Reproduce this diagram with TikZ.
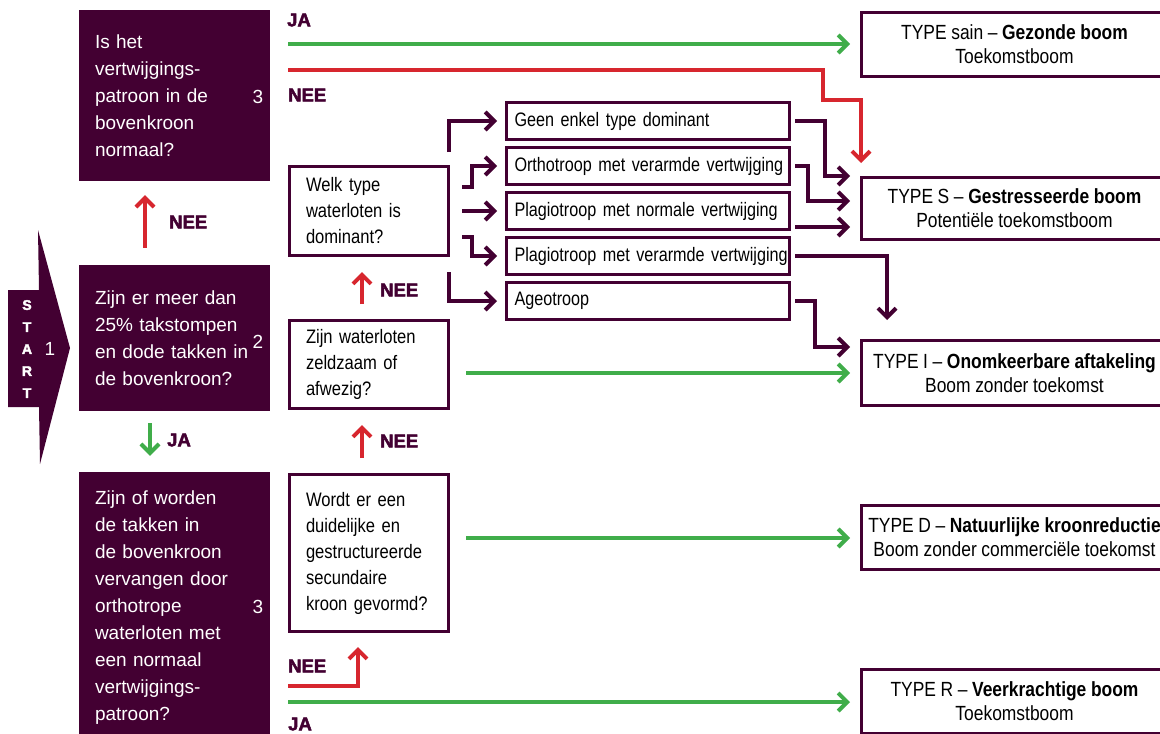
\documentclass[tikz,border=0pt]{standalone}
\usepackage{fontspec}
\setmainfont{Liberation Sans}
\newfontfamily\cn[FakeStretch=0.85,Ligatures=TeX]{Liberation Sans}
\newfontfamily\cnn[FakeStretch=0.83,Ligatures=TeX]{Liberation Sans}
\newfontfamily\lb[BoldFeatures={FakeBold=2.5}]{Liberation Sans}
\protected\def\spW{\spaceskip=4.3pt plus 1pt minus 1pt\relax}
\protected\def\spO{\spaceskip=4pt plus 1pt minus 1pt\relax}
\protected\def\spR{\spaceskip=4.6pt plus 1pt minus 1pt\relax}
\usetikzlibrary{arrows.meta,calc}
\definecolor{plum}{RGB}{67,0,50}
\definecolor{grn}{RGB}{64,173,74}
\definecolor{rd}{RGB}{215,38,46}
\begin{document}
\begin{tikzpicture}[x=1pt,y=-1pt,
  dark/.style={fill=plum, text=white, align=left, text width=159pt, inner xsep=16pt, inner ysep=0pt, minimum width=191pt, font=\fontsize{19}{27}\selectfont},
  wbox/.style={draw=plum, line width=3pt, fill=white, text=black, align=left, text width=126pt, inner xsep=16.5pt, inner ysep=0pt, font=\cn\fontsize{19.5}{26}\selectfont\spW},
  obox/.style={draw=plum, line width=3pt, fill=white, text=black, align=left, text width=267pt, inner xsep=8pt, inner ysep=0pt, minimum height=37pt, font=\cnn\fontsize{19.5}{24}\selectfont\spO},
  rbox/.style={draw=plum, line width=3pt, fill=white, text=black, align=center, minimum width=306pt, inner ysep=0pt, font=\cn\fontsize{20.5}{24}\selectfont\spR},
  num/.style={text=white, inner sep=0pt, font=\fontsize{19}{19}\selectfont},
  lbl/.style={text=plum, anchor=west, inner sep=0pt, font=\lb\bfseries\fontsize{18.5}{18.5}\selectfont},
  conn/.style={line width=4pt, -{Straight Barb[length=9pt,width=18pt]}},
  parr/.style={conn, draw=plum},
  garr/.style={conn, draw=grn},
  rarr/.style={conn, draw=rd},
]
\useasboundingbox (0,0) rectangle (1160,734);
\fill[white] (0,0) rectangle (1160,734);
\clip (0,0) rectangle (1160,734);

% start arrow
\fill[plum] (8,290) -- (39,290) -- (38,230) -- (70,348) -- (40,464) -- (39,407) -- (8,407) -- cycle;
\node[text=white, align=center, inner sep=0pt, font=\lb\bfseries\fontsize{14}{22}\selectfont] (start) at (27,349) {S\\T\\A\\R\\T};
\node[num] (n1) at (50,349) {1};

% dark question boxes
\node[dark, minimum height=171pt] (q1) at (174.5,95.5) {Is het\\vertwijgings-\\patroon in de\\bovenkroon\\normaal?};
\node[dark, minimum height=146pt] (q2) at (174.5,338) {Zijn er meer dan\\25\% takstompen\\en dode takken in\\de bovenkroon?};
\node[dark, minimum height=272pt] (q3) at (174.5,608) {Zijn of worden\\de takken in\\de bovenkroon\\vervangen door\\orthotrope\\waterloten met\\een normaal\\vertwijgings-\\patroon?};
\node[num] (n3a) at (258,97) {3};
\node[num] (n2) at (258,342) {2};
\node[num] (n3b) at (258,607) {3};

% white question boxes
\node[wbox, minimum height=89pt] (welk) at (369,211) {Welk type\\waterloten is\\dominant?};
\node[wbox, minimum height=88pt] (zeld) at (369,364.5) {Zijn waterloten\\zeldzaam of\\afwezig?};
\node[wbox, minimum height=157pt] (wordt) at (369,553) {Wordt er een\\duidelijke en\\gestructureerde\\secundaire\\\mbox{kroon gevormd?}};

% option boxes
\node[obox] (geen) at (648,121) {\mbox{Geen enkel type dominant}};
\node[obox] (ortho) at (648,166) {\mbox{Orthotroop met verarmde vertwijging}};
\node[obox] (pnorm) at (648,211) {\mbox{Plagiotroop met normale vertwijging}};
\node[obox] (pver) at (648,256) {\mbox{Plagiotroop met verarmde vertwijging}};
\node[obox] (ageo) at (648,301) {\mbox{Ageotroop}};

% result boxes
\node[rbox, minimum height=64pt] (sain) at (1014.5,44.5) {TYPE sain – \textbf{Gezonde boom}\\Toekomstboom};
\node[rbox, minimum height=62pt] (typeS) at (1014.5,208.5) {TYPE S – \textbf{Gestresseerde boom}\\Potentiële toekomstboom};
\node[rbox, minimum height=65pt] (typeI) at (1014.5,373) {TYPE I – \textbf{Onomkeerbare aftakeling}\\Boom zonder toekomst};
\node[rbox, minimum height=64pt] (typeD) at (1014.5,537.5) {TYPE D – \textbf{Natuurlijke kroonreductie}\\Boom zonder commerciële toekomst};
\node[rbox, minimum height=64pt] (typeR) at (1014.5,701.5) {TYPE R – \textbf{Veerkrachtige boom}\\Toekomstboom};

% labels
\node[lbl] (ja1) at (287,20) {JA};
\node[lbl] (nee1) at (288,95) {NEE};
\node[lbl] (nee2) at (169,222) {NEE};
\node[lbl] (ja2) at (167,440) {JA};
\node[lbl] (nee3) at (380,290) {NEE};
\node[lbl] (nee4) at (380,441) {NEE};
\node[lbl] (nee5) at (288,666) {NEE};
\node[lbl] (ja3) at (288,724) {JA};

% free ends
\coordinate (jt) at (288,44);
\coordinate (nt) at (288,70);
\coordinate (jz) at ($(zeld.east)+(16,8.5)$);
\coordinate (jw) at ($(wordt.east)+(16,-15)$);
\coordinate (nb) at (288,686);
\coordinate (jb) at (288,702);
\coordinate (wg) at ($(welk.north east)+(-1,-13)$);
\coordinate (wa) at ($(welk.south east)+(-1,15)$);
\coordinate (wo) at ($(welk.east)+(12,-24)$);
\coordinate (wp) at ($(welk.east)+(12,0)$);
\coordinate (wv) at ($(welk.east)+(12,26)$);

% vertical short arrows
\draw[rarr, shorten <=17pt, shorten >=14pt] ([xshift=-29.5pt]q2.north) -- ([xshift=-29.5pt]q1.south);
\draw[garr, shorten <=12pt, shorten >=16pt] ([xshift=-24.5pt]q2.south) -- ([xshift=-24.5pt]q3.north);
\draw[rarr, shorten <=15pt, shorten >=15pt] ([xshift=-7pt]zeld.north) -- ([xshift=-7pt]welk.south);
\draw[rarr, shorten <=15pt, shorten >=15pt] ([xshift=-7pt]wordt.north) -- ([xshift=-7pt]zeld.south);

% long green / red
\draw[garr, shorten >=10pt] (jt) -- (jt -| sain.west);
\draw[rarr, shorten >=13pt] (nt) -| ($(typeS.north west)+(-37,-76)$) -| ([xshift=1pt]typeS.north west);
\draw[garr, shorten >=10pt] (jz) -- (jz -| typeI.west);
\draw[garr, shorten >=10pt] (jw) -- (jw -| typeD.west);
\draw[rarr, shorten >=14pt] (nb) -| ([xshift=-11pt]wordt.south);
\draw[garr, shorten >=10pt] (jb) -- (jb -| typeR.west);

% to option boxes
\draw[parr, shorten >=8pt] (wg) |- (geen.west);
\draw[parr, shorten >=8pt] (wo) -- ++(10,0) |- (ortho.west);
\draw[parr, shorten >=8pt] (wp) -- (pnorm.west);
\draw[parr, shorten >=8pt] (wv) -- ++(10,0) |- (pver.west);
\draw[parr, shorten >=8pt] (wa) |- (ageo.west);

% from option boxes
\draw[parr, shorten <=4pt, shorten >=10pt] (geen.east) -| ($(typeS.north west)+(-35,0)$) -- (typeS.north west);
\draw[parr, shorten <=4pt, shorten >=10pt] (ortho.east) -| ($(typeS.west)+(-52,-7.5)$) -- ($(typeS.west)+(0,-7.5)$);
\draw[parr, shorten <=4pt, shorten >=10pt] ($(pnorm.east)+(0,16)$) -- ($(typeS.west)+(0,18.5)$);
\draw[parr, shorten <=4pt, shorten >=19pt] (pver.east) -| ($(typeI.north west)+(27,0)$);
\draw[parr, shorten <=4pt, shorten >=10pt] (ageo.east) -| ($(typeI.west)+(-45,-26)$) -- ($(typeI.west)+(0,-26)$);
\end{tikzpicture}
\end{document}
